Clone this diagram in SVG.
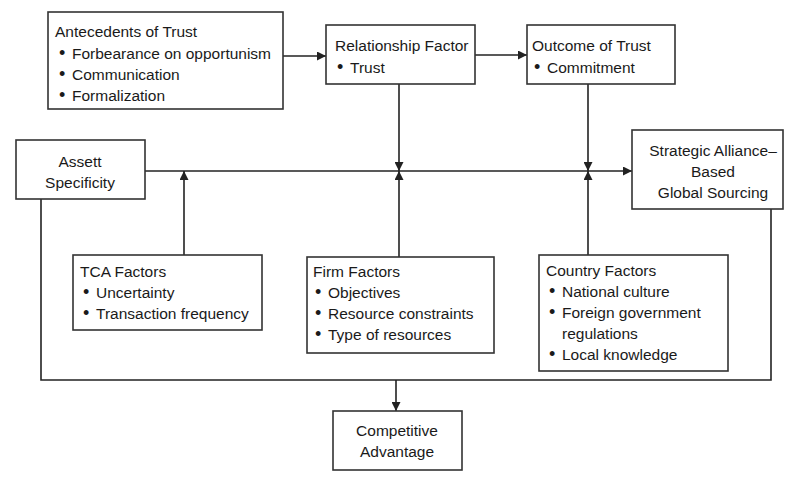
<svg xmlns="http://www.w3.org/2000/svg" width="785" height="481" viewBox="0 0 785 481">
<style>
.box{fill:#fff;stroke:#333;stroke-width:1.6}
.ln{fill:none;stroke:#222;stroke-width:1.6}
text{font-family:"Liberation Sans",Arial,sans-serif;font-size:15.5px;fill:#1a1a1a}
.c{text-anchor:middle}
.b{font-size:18px}
</style>
<defs>
<marker id="ah" viewBox="0 0 10 10" refX="10" refY="5" markerWidth="9" markerHeight="9" markerUnits="userSpaceOnUse" orient="auto">
<path d="M0,0 L10,5 L0,10 Z" fill="#222"/>
</marker>
</defs>
<rect width="785" height="481" fill="#fff"/>
<g id="connectors">
<line class="ln" x1="283" y1="56" x2="326" y2="56" marker-end="url(#ah)"/>
<line class="ln" x1="475" y1="55" x2="527" y2="55" marker-end="url(#ah)"/>
<line class="ln" x1="399" y1="84" x2="399" y2="171" marker-end="url(#ah)"/>
<line class="ln" x1="588" y1="84" x2="588" y2="171" marker-end="url(#ah)"/>
<line class="ln" x1="145" y1="171" x2="632" y2="171" marker-end="url(#ah)"/>
<line class="ln" x1="184" y1="255" x2="184" y2="171" marker-end="url(#ah)"/>
<line class="ln" x1="399" y1="257" x2="399" y2="171" marker-end="url(#ah)"/>
<line class="ln" x1="588" y1="255" x2="588" y2="171" marker-end="url(#ah)"/>
<polyline class="ln" points="41,199 41,380 771,380 771,209"/>
<line class="ln" x1="396" y1="380" x2="396" y2="411" marker-end="url(#ah)"/>
</g>
<g id="antecedents">
<rect class="box" x="48" y="12" width="235" height="97"/>
<text x="55" y="37">Antecedents of Trust</text>
<text class="b" x="59" y="59">•</text><text x="72" y="59">Forbearance on opportunism</text>
<text class="b" x="59" y="80">•</text><text x="72" y="80">Communication</text>
<text class="b" x="59" y="101">•</text><text x="72" y="101">Formalization</text>
</g>
<g id="relationship">
<rect class="box" x="326" y="25" width="149" height="59"/>
<text x="335" y="51">Relationship Factor</text>
<text class="b" x="337" y="73">•</text><text x="350" y="73">Trust</text>
</g>
<g id="outcome">
<rect class="box" x="527" y="25" width="148" height="59"/>
<text x="532" y="51">Outcome of Trust</text>
<text class="b" x="534" y="73">•</text><text x="547" y="73">Commitment</text>
</g>
<g id="assett">
<rect class="box" x="16" y="140" width="129" height="59"/>
<text class="c" x="80" y="167">Assett</text>
<text class="c" x="80" y="188">Specificity</text>
</g>
<g id="strategic">
<rect class="box" x="632" y="130" width="151" height="79"/>
<text class="c" x="713" y="156">Strategic Alliance–</text>
<text class="c" x="713" y="177">Based</text>
<text class="c" x="713" y="198">Global Sourcing</text>
</g>
<g id="tca">
<rect class="box" x="73" y="255" width="189" height="75"/>
<text x="80" y="277">TCA Factors</text>
<text class="b" x="83" y="298">•</text><text x="96" y="298">Uncertainty</text>
<text class="b" x="83" y="319">•</text><text x="96" y="319">Transaction frequency</text>
</g>
<g id="firm">
<rect class="box" x="307" y="257" width="187" height="96"/>
<text x="313" y="277">Firm Factors</text>
<text class="b" x="315" y="298">•</text><text x="328" y="298">Objectives</text>
<text class="b" x="315" y="319">•</text><text x="328" y="319">Resource constraints</text>
<text class="b" x="315" y="340">•</text><text x="328" y="340">Type of resources</text>
</g>
<g id="country">
<rect class="box" x="539" y="255" width="189" height="116"/>
<text x="546" y="276">Country Factors</text>
<text class="b" x="549" y="297">•</text><text x="562" y="297">National culture</text>
<text class="b" x="549" y="318">•</text><text x="562" y="318">Foreign government</text>
<text x="562" y="339">regulations</text>
<text class="b" x="549" y="360">•</text><text x="562" y="360">Local knowledge</text>
</g>
<g id="competitive">
<rect class="box" x="333" y="411" width="129" height="59"/>
<text class="c" x="397" y="436">Competitive</text>
<text class="c" x="397" y="457">Advantage</text>
</g>
</svg>
